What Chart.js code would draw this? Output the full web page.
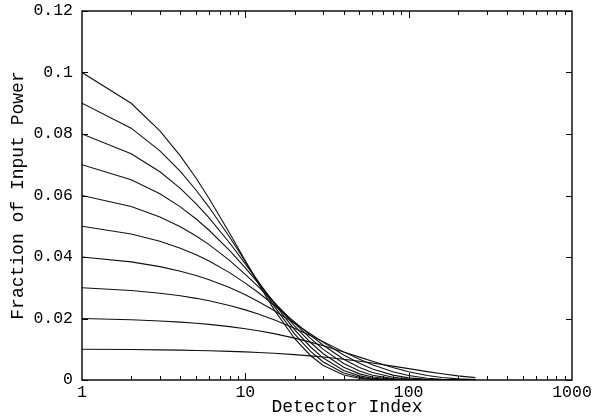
<!DOCTYPE html>
<html>
<head>
<meta charset="utf-8">
<script src="https://cdn.jsdelivr.net/npm/chart.js@4/dist/chart.umd.min.js"></script>
<style>
  html, body { margin: 0; padding: 0; background: #fff; }
  #wrap { width: 597px; height: 420px; }
</style>
</head>
<body>
<div id="wrap"><canvas id="c" width="597" height="420"></canvas></div>
<script>
// Detector indices at which the power fractions are sampled
const detectorIndex = [1, 2, 3, 4, 5, 6, 8, 10, 12, 15, 20, 25, 30, 40, 50, 60, 80, 100, 130, 160, 200, 256];

// Fraction of input power per detector, one array per curve
const curveA = [0.01, 0.0099, 0.009801, 0.009703, 0.009606, 0.00951, 0.009321, 0.009135, 0.008953, 0.008687, 0.008262, 0.007857, 0.007472, 0.006757, 0.006111, 0.005527, 0.00452, 0.003697, 0.002735, 0.002023, 0.001353, 0.000771];
const curveB = [0.02, 0.0196, 0.019208, 0.018824, 0.018447, 0.018078, 0.017363, 0.016675, 0.016014, 0.015073, 0.013625, 0.012316, 0.011132, 0.009096, 0.007432, 0.006073, 0.004054, 0.002707, 0.001476, 0.000806, 0.000359, 0.000116];
const curveC = [0.03, 0.0291, 0.028227, 0.02738, 0.026558, 0.025762, 0.024239, 0.022807, 0.021459, 0.019585, 0.016819, 0.014443, 0.012402, 0.009147, 0.006745, 0.004973, 0.002705, 0.001471, 0.00059, 0.000237, 0.00007, 0.000013];
const curveD = [0.04, 0.0384, 0.036864, 0.035389, 0.033974, 0.032615, 0.030059, 0.027702, 0.02553, 0.022587, 0.018417, 0.015018, 0.012246, 0.008141, 0.005412, 0.003599, 0.00159, 0.000703, 0.000207, 0.000061, 0.000012, 0];
const curveE = [0.05, 0.0475, 0.045125, 0.042869, 0.040725, 0.038689, 0.034917, 0.031512, 0.02844, 0.024383, 0.018868, 0.014599, 0.011297, 0.006764, 0.00405, 0.002425, 0.000869, 0.000312, 0.000067, 0.000014, 0, 0];
const curveF = [0.06, 0.0564, 0.053016, 0.049835, 0.046845, 0.044034, 0.038909, 0.03438, 0.030378, 0.025231, 0.018517, 0.013591, 0.009973, 0.005373, 0.002894, 0.001559, 0.000452, 0.000131, 0.000021, 0.000003, 0, 0];
const curveG = [0.07, 0.0651, 0.060543, 0.056305, 0.052364, 0.048698, 0.04212, 0.036428, 0.031507, 0.025343, 0.01763, 0.012265, 0.008533, 0.004131, 0.001999, 0.000968, 0.000227, 0.000053, 0.000006, 0, 0, 0];
const curveH = [0.08, 0.0736, 0.067712, 0.062295, 0.057311, 0.052727, 0.04463, 0.03777, 0.03197, 0.024894, 0.016409, 0.010815, 0.007128, 0.003096, 0.001345, 0.000584, 0.00011, 0.000021, 0, 0, 0, 0];
const curveI = [0.09, 0.0819, 0.074529, 0.067821, 0.061717, 0.056163, 0.046511, 0.038513, 0.031893, 0.024035, 0.014998, 0.009361, 0.005841, 0.002274, 0.000886, 0.000345, 0.000052, 0.000008, 0, 0, 0, 0];
const curveJ = [0.1, 0.09, 0.081, 0.0729, 0.06561, 0.059049, 0.04783, 0.038742, 0.031381, 0.022877, 0.013509, 0.007977, 0.00471, 0.001642, 0.000573, 0.0002, 0.000024, 0, 0, 0, 0, 0];

const allCurves = [curveA, curveB, curveC, curveD, curveE, curveF, curveG, curveH, curveI, curveJ];

// Axis ticks and labels
const xMajorTicks = [1, 10, 100, 1000];
const yTickValues = [0, 0.02, 0.04, 0.06, 0.08, 0.1, 0.12];
const yTickLabels = ['0', '0.02', '0.04', '0.06', '0.08', '0.1', '0.12'];
const xTitle = 'Detector Index';
const yTitle = 'Fraction of Input Power';

const FONT = '"Liberation Mono", "Courier New", monospace';

const datasets = allCurves.map((vals, k) => ({
  label: 'curve ' + (k + 1),
  data: detectorIndex.map((d, i) => ({ x: d, y: vals[i] })),
  borderColor: '#111',
  borderWidth: 1.1,
  pointRadius: 0,
  tension: 0,
  fill: false
}));

// Frame, inward tick marks on all four sides, and axis titles
const frameAndTicks = {
  id: 'frameAndTicks',
  afterDatasetsDraw(chart) {
    const { ctx, chartArea: a, scales: { x, y } } = chart;
    ctx.save();
    ctx.strokeStyle = '#000';
    ctx.lineWidth = 1.4;
    ctx.strokeRect(a.left, a.top, a.right - a.left, a.bottom - a.top);

    ctx.lineWidth = 1;
    ctx.beginPath();
    for (let d = 1; d < 1000; d *= 10) {
      for (let m = 1; m <= 9; m++) {
        const v = d * m;
        if (v <= 1 || v >= 1000) continue;
        const px = Math.round(x.getPixelForValue(v)) + 0.5;
        const len = m === 1 ? 7 : 4;
        ctx.moveTo(px, a.bottom); ctx.lineTo(px, a.bottom - len);
        ctx.moveTo(px, a.top); ctx.lineTo(px, a.top + len);
      }
    }
    yTickValues.forEach(v => {
      const py = Math.round(y.getPixelForValue(v)) + 0.5;
      ctx.moveTo(a.left, py); ctx.lineTo(a.left + 6, py);
      ctx.moveTo(a.right, py); ctx.lineTo(a.right - 6, py);
    });
    ctx.stroke();

    ctx.fillStyle = '#000';
    ctx.font = '18px ' + FONT;
    ctx.textAlign = 'center';
    ctx.textBaseline = 'alphabetic';
    ctx.fillText(xTitle, 347, 412);

    ctx.save();
    ctx.translate(23, (a.top + a.bottom) / 2);
    ctx.rotate(-Math.PI / 2);
    ctx.fillText(yTitle, 0, 0);
    ctx.restore();
    ctx.restore();
  }
};

new Chart(document.getElementById('c'), {
  type: 'line',
  data: { datasets },
  options: {
    responsive: false,
    animation: false,
    devicePixelRatio: 1,
    layout: { padding: { top: 11, right: 25, left: 0, bottom: 0 } },
    plugins: { legend: { display: false }, tooltip: { enabled: false } },
    scales: {
      x: {
        type: 'logarithmic',
        min: 1,
        max: 1000,
        afterBuildTicks: s => { s.ticks = xMajorTicks.map(v => ({ value: v })); },
        afterFit: s => { s.height = 40; s.paddingLeft = 0; s.paddingRight = 0; },
        grid: { display: false, drawTicks: false },
        border: { display: false },
        ticks: {
          padding: 3,
          maxRotation: 0,
          autoSkip: false,
          color: '#000',
          font: { family: FONT, size: 16.5 },
          callback: v => String(v)
        }
      },
      y: {
        type: 'linear',
        min: 0,
        max: 0.12,
        afterBuildTicks: s => { s.ticks = yTickValues.map(v => ({ value: v })); },
        afterFit: s => { s.width = 82; s.paddingTop = 0; s.paddingBottom = 0; },
        grid: { display: false, drawTicks: false },
        border: { display: false },
        ticks: {
          padding: 9,
          color: '#000',
          font: { family: FONT, size: 16.5 },
          callback: v => yTickLabels[yTickValues.findIndex(t => Math.abs(t - v) < 1e-9)]
        }
      }
    }
  },
  plugins: [frameAndTicks]
});
</script>
</body>
</html>
